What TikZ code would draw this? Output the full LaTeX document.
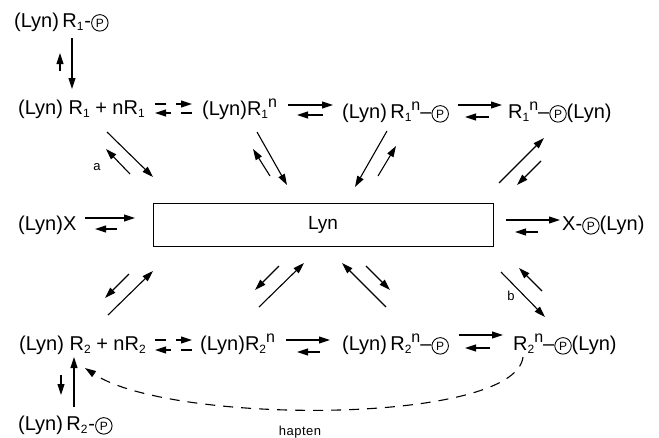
\documentclass[tikz,border=0pt]{standalone}
\usepackage{fontspec}
\setmainfont{Liberation Sans}
\usetikzlibrary{arrows.meta}
\newcommand\lsb[1]{\raisebox{-0.3ex}{\fontsize{12}{12}\selectfont #1}}
\newcommand\lsp[1]{\raisebox{0.75ex}{\fontsize{16}{16}\selectfont #1}}
% circled P (no installed font has the glyph), drawn as a shape
\newcommand\cP{\tikz[baseline=(cp.base)]\node[circle, draw, line width=0.9pt, inner sep=0pt,
  minimum size=16.5pt, font=\fontsize{12}{12}\selectfont, anchor=center] (cp) {P};}
\tikzset{
  arr/.style={-{Triangle[length=11pt,width=7pt]}, line width=1.1pt},
  darr/.style={arr, dash pattern=on 11pt off 10pt},
  lbl/.style={anchor=base west, inner sep=0pt, font=\fontsize{20}{22}\selectfont},
  small/.style={inner sep=0pt, font=\fontsize{13}{14}\selectfont},
}
\begin{document}
\begin{tikzpicture}[x=1pt,y=-1pt]
\useasboundingbox (0,0) rectangle (659,437);
% nodes
\node[lbl] (r1p) at (14,27) {(Lyn)\,R\lsb{1}\kern1pt-\cP};
\node[lbl] (r1) at (18,114) {(Lyn) R\lsb{1} + nR\lsb{1}};
\node[lbl] (r1n) at (202,115) {(Lyn)R\lsb{1}\lsp{n}};
\node[lbl] (r1np) at (342,118) {(Lyn)\,R\lsb{1}\lsp{n}--\cP};
\node[lbl] (r1npl) at (508,118) {R\lsb{1}\lsp{n}--\cP(Lyn)};
\node[lbl] (lx) at (18,230) {(Lyn)X};
\node[draw, line width=1pt, minimum width=340pt, minimum height=43pt, inner sep=0pt,
      font=\fontsize{19}{21}\selectfont] (box) at (323,224.5) {Lyn};
\node[lbl] (xp) at (562,230) {X-\cP(Lyn)};
\node[lbl] (r2) at (19,350) {(Lyn) R\lsb{2} + nR\lsb{2}};
\node[lbl] (r2n) at (200,350) {(Lyn)R\lsb{2}\lsp{n}};
\node[lbl] (r2np) at (342,350) {(Lyn)\,R\lsb{2}\lsp{n}--\cP};
\node[lbl] (r2npl) at (513,350) {R\lsb{2}\lsp{n}--\cP(Lyn)};
\node[lbl] (r2p) at (18,430) {(Lyn)\,R\lsb{2}\kern1pt-\cP};
\node[small, anchor=base] (hap) at (300,435) {h\kern0.5pt a\kern0.5pt p\kern0.5pt t\kern0.5pt e\kern0.5pt n};
\node[small] (la) at (97,167) {a};
\node[small] (lb) at (511,296) {b};
% vertical pairs
\draw[arr] (72,38) -- (72,89);
\draw[arr] (60,71) -- (60,53);
\draw[arr] (74,407) -- (74,357);
\draw[arr] (61,375) -- (61,395);
% horizontal pairs, top row
\draw[darr] (155,104) -- (192,104);
\draw[darr] (192,113) -- (155,113);
\draw[arr] (288,105) -- (333,105);
\draw[arr] (323,115) -- (297,115);
\draw[arr] (458,105) -- (502,105);
\draw[arr] (489,117) -- (465,117);
% middle row
\draw[arr] (85,218) -- (135,218);
\draw[arr] (117,229) -- (95,229);
\draw[arr] (506,220) -- (560,220);
\draw[arr] (538,232) -- (515,232);
% bottom row
\draw[darr] (155,340) -- (192,340);
\draw[darr] (192,350) -- (155,350);
\draw[arr] (286,340) -- (330,340);
\draw[arr] (320,352) -- (297,352);
\draw[arr] (459,335) -- (503,335);
\draw[arr] (490,348) -- (465,348);
% diagonals top
\draw[arr] (107,132) -- (153,177);
\draw[arr] (130,174) -- (106,149);
\draw[arr] (257,132) -- (287,185);
\draw[arr] (270,176) -- (253,149);
\draw[arr] (387,131) -- (355,187);
\draw[arr] (378,176) -- (396,146);
\draw[arr] (499,183) -- (544,138);
\draw[arr] (541,161) -- (517,185);
% diagonals bottom
\draw[arr] (129,274) -- (105,298);
\draw[arr] (108,315) -- (153,271);
\draw[arr] (279,266) -- (255,290);
\draw[arr] (259,307) -- (304,263);
\draw[arr] (386,307) -- (342,263);
\draw[arr] (366,266) -- (390,290);
\draw[arr] (501,272) -- (545,317);
\draw[arr] (542,291) -- (519,268);
% hapten curve
\draw[arr, dash pattern=on 10pt off 8pt] (523,357) .. controls (515,425) and (170,425) .. (85,368);
\end{tikzpicture}
\end{document}
